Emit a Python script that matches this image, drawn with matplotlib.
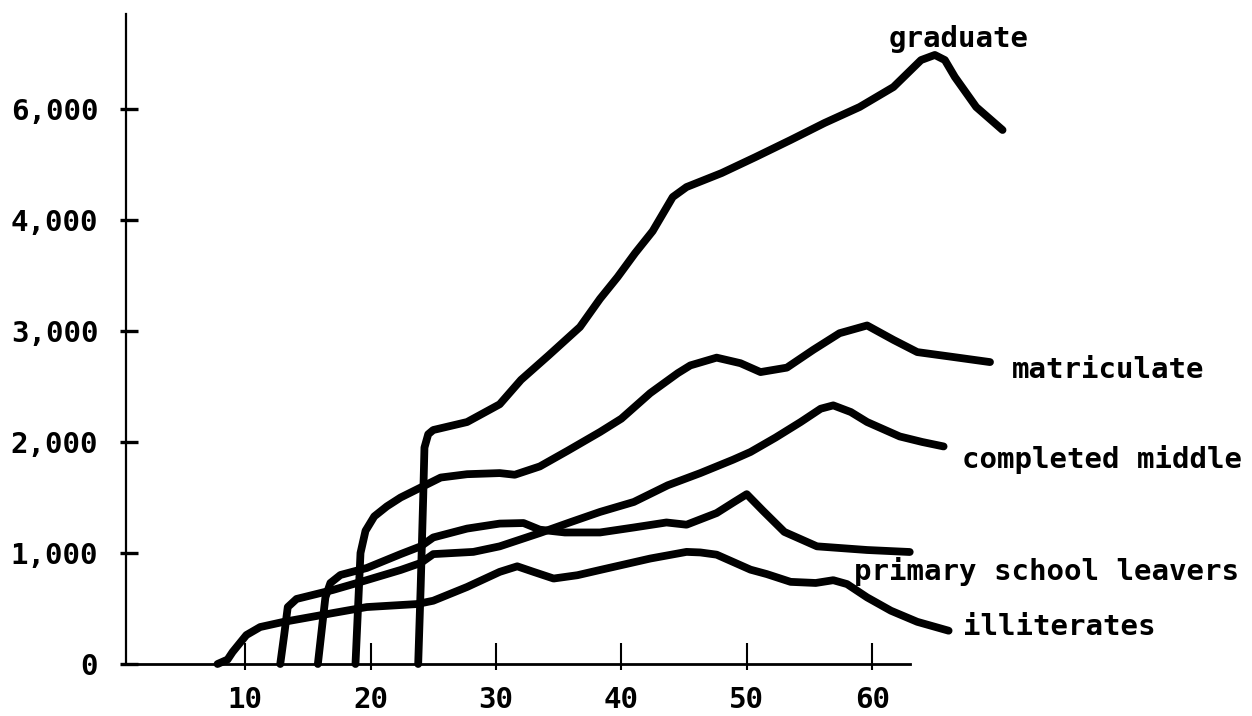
import numpy as np
import matplotlib
matplotlib.use("Agg")
import matplotlib.pyplot as plt
from matplotlib.ticker import FixedLocator

# ---- data (age in years, earnings) ----
illit_age = [7.8, 8.6, 9.0, 10.1, 11.2, 13.0, 17.0, 19.7, 23.7, 25.0, 27.7, 30.3, 31.7, 33.0,
             34.6, 36.5, 38.3, 42.3, 45.2, 46.3, 47.6, 50.3, 51.6, 53.5, 55.5, 56.9, 58.0,
             59.6, 61.5, 63.6, 66.1]
illit_earn = [0, 40, 108, 261, 333, 378, 459, 513, 540, 570, 694, 830, 880, 830,
              770, 800, 847, 950, 1010, 1005, 985, 850, 810, 740, 730, 755, 720,
              600, 480, 380, 300]

middle_age = [12.8, 13.1, 13.4, 14.1, 17.0, 19.2, 22.4, 24.0, 25.0, 28.2, 30.3, 33.5, 36.0,
              38.3, 41.0, 43.7, 46.3, 48.9, 50.3, 52.3, 54.3, 55.9, 56.9, 58.3, 59.6,
              62.2, 64.0, 65.7]
middle_earn = [0, 250, 513, 586, 667, 739, 847, 910, 990, 1010, 1060, 1180, 1280,
               1370, 1460, 1610, 1720, 1840, 1910, 2040, 2180, 2300, 2330, 2270, 2180,
               2050, 2000, 1960]

primary_age = [15.8, 16.1, 16.4, 16.8, 17.6, 19.7, 22.4, 24.0, 25.0, 27.7, 30.3, 32.2, 33.5,
               35.5, 38.3, 41.0, 43.6, 45.2, 47.6, 49.0, 50.0, 51.3, 53.0, 55.6, 59.6, 63.0]
primary_earn = [0, 300, 600, 730, 802, 865, 990, 1060, 1140, 1220, 1265, 1270, 1210,
                1185, 1185, 1230, 1275, 1255, 1360, 1460, 1530, 1380, 1190, 1060, 1027, 1009]

matric_age = [18.8, 19.0, 19.2, 19.6, 20.3, 21.3, 22.4, 24.0, 25.6, 27.7, 30.3, 31.5, 33.5,
              35.7, 38.3, 40.0, 42.3, 44.5, 45.5, 47.6, 49.5, 51.1, 53.2, 55.3, 57.4,
              59.6, 61.7, 63.6, 66.2, 69.4]
matric_earn = [0, 500, 1000, 1200, 1330, 1420, 1500, 1590, 1680, 1710, 1720, 1705, 1780,
               1920, 2090, 2210, 2440, 2620, 2690, 2760, 2710, 2630, 2670, 2830, 2980,
               3050, 2920, 2810, 2770, 2720]

grad_age = [23.8, 24.0, 24.2, 24.3, 24.6, 25.0, 27.7, 30.3, 32.0, 34.2, 36.7, 38.3,
            39.7, 41.1, 42.5, 44.1, 45.2, 48.0, 50.7, 53.5, 56.2, 59.0, 61.7, 63.9,
            65.0, 65.8, 66.6, 68.3, 70.4]
grad_earn = [0, 700, 1500, 1950, 2070, 2108, 2180, 2340, 2560, 2780, 3036, 3290,
             3486, 3702, 3900, 4414, 4594, 4846, 5134, 5442, 5748, 6036, 6396, 6882,
             6974, 6882, 6576, 6036, 5622]

series = [
    (illit_age, illit_earn),
    (middle_age, middle_earn),
    (primary_age, primary_earn),
    (matric_age, matric_earn),
    (grad_age, grad_earn),
]

x_ticks = [10, 20, 30, 40, 50, 60]
x_tick_labels = ["10", "20", "30", "40", "50", "60"]
y_ticks = [0, 1000, 2000, 3000, 4000, 6000]
y_tick_labels = ["0", "1,000", "2,000", "3,000", "4,000", "6,000"]

labels = ["graduate", "matriculate", "completed middle", "primary school leavers", "illiterates"]

# ---- figure ----
W, H = 1252, 716
fig = plt.figure(figsize=(W / 100, H / 100), dpi=100)
fig.patch.set_facecolor("white")

FONT = "DejaVu Sans Mono"

ax = fig.add_axes([126 / W, (H - 664) / H, 1 - 126 / W, (664 - 14) / H])


def fwd(y):
    y = np.asarray(y, dtype=float)
    return np.where(y <= 4000, y, 4000 + (y - 4000) / 2.0)


def inv(v):
    v = np.asarray(v, dtype=float)
    return np.where(v <= 4000, v, 4000 + 2.0 * (v - 4000))


ax.set_yscale("function", functions=(fwd, inv))

for xs, ys in series:
    ax.plot(xs, ys, color="black", lw=5.6, solid_capstyle="round",
            solid_joinstyle="round", clip_on=False, zorder=3)

ax.set_xlim(0.5, 0.5 + (W - 126) / 12.54)
ax.set_ylim(0, float(inv(5856)))

for s in ["top", "right"]:
    ax.spines[s].set_visible(False)
ax.spines["left"].set_linewidth(1.6)
ax.spines["bottom"].set_linewidth(2.0)
ax.spines["bottom"].set_bounds(0.5, 63.0)

ax.xaxis.set_major_locator(FixedLocator(x_ticks))
ax.xaxis.set_minor_locator(FixedLocator(x_ticks))
ax.yaxis.set_major_locator(FixedLocator(y_ticks))
ax.yaxis.set_minor_locator(FixedLocator(y_ticks))
ax.xaxis.remove_overlapping_locs = False
ax.yaxis.remove_overlapping_locs = False
ax.set_xticklabels(x_tick_labels)
ax.set_yticklabels(y_tick_labels)

ax.tick_params(axis="x", which="major", direction="in", length=15, width=1.5,
               pad=16, labelsize=21)
ax.tick_params(axis="x", which="minor", direction="out", length=4.3, width=1.5)
ax.tick_params(axis="y", which="major", direction="in", length=8.6, width=2.4,
               pad=20, labelsize=21)
ax.tick_params(axis="y", which="minor", direction="out", length=4.3, width=2.4)
for lab in ax.get_xticklabels() + ax.get_yticklabels():
    lab.set_family(FONT)
    lab.set_fontweight("bold")

# ---- curve labels (figure pixel positions) ----
label_pos = [(889, 47), (1012, 378), (962, 468), (854, 580), (963, 635)]
for text, (px, py) in zip(labels, label_pos):
    fig.text(px / W, 1 - py / H, text, family=FONT, fontweight="bold",
             fontsize=21, ha="left", va="baseline", color="black")

fig.savefig("out.png", dpi=100, facecolor="white")
